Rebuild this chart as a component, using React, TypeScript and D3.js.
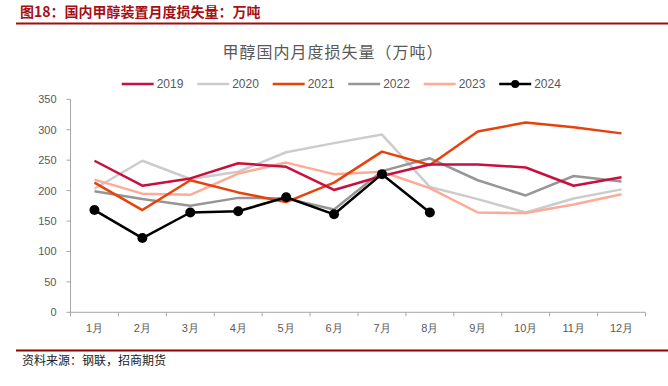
import React from "react";
import * as d3 from "d3";

const months = ["1月","2月","3月","4月","5月","6月","7月","8月","9月","10月","11月","12月"];
const yTicks = [0, 50, 100, 150, 200, 250, 300, 350];

const s2019 = [249, 208, 220, 245, 239, 201, 224, 243, 243, 238, 208, 222];
const s2020 = [203, 249, 219, 231, 263, 278, 292, 206, 186, 164, 187, 202];
const s2021 = [213, 168, 217, 197, 181, 213, 264, 242, 297, 312, 304, 294];
const s2022 = [199, 186, 175, 188, 187, 169, 232, 253, 217, 192, 224, 215];
const s2023 = [218, 195, 193, 228, 246, 227, 231, 204, 164, 163, 177, 194];
const s2024 = [168, 122, 164, 166, 189, 161, 227, 164];

const seriesNames = ["2019", "2020", "2021", "2022", "2023", "2024"];
const seriesColors = ["#C8103E", "#CCCCCC", "#E8420A", "#969696", "#FFAA96", "#000000"];

export default function App() {
  const W = 668, H = 386;
  const left = 70.5, right = 645.5, top = 99.3, bottom = 312.3;
  const x = d3.scaleBand<string>().domain(months).range([left, right]);
  const y = d3.scaleLinear().domain([0, 350]).range([bottom, top]);
  const cx = (i: number) => (x(months[i]) as number) + x.bandwidth() / 2;
  const line = d3.line<number>().x((_, i) => cx(i)).y((d) => y(d));
  const data = [s2019, s2020, s2021, s2022, s2023, s2024];
  const drawOrder = [1, 3, 4, 2, 0, 5];
  const legendX = [121.7, 197.2, 272.7, 348.2, 423.7, 499.2];
  const font = "'Liberation Sans', Arial, sans-serif";
  const cjk = "'Noto Sans CJK SC', sans-serif";
  return (
    <svg width={W} height={H} style={{ position: "absolute", left: 0, top: 0 }}>
      <rect width={W} height={H} fill="#fff" />
      <text x={20} y={17} fontFamily={cjk} fontWeight="bold" fontSize={14} fill="#A50F15">
        图18：国内甲醇装置月度损失量：万吨
      </text>
      <line x1={16} x2={668} y1={23.5} y2={23.5} stroke="#A00E0E" strokeWidth={2} />
      <text x={333} y={58} textAnchor="middle" fontFamily={cjk} fontSize={16} fill="#595959" letterSpacing={1}>
        甲醇国内月度损失量（万吨）
      </text>
      {seriesNames.map((n, i) => (
        <g key={n}>
          <line x1={legendX[i]} x2={legendX[i] + 32} y1={84} y2={84} stroke={seriesColors[i]} strokeWidth={2.5} />
          {i === 5 && <circle cx={legendX[i] + 16} cy={84} r={4} fill="#000" />}
          <text x={legendX[i] + 35} y={88} fontFamily={font} fontSize={12} fill="#595959">{n}</text>
        </g>
      ))}
      {/* y axis */}
      <line x1={left} x2={left} y1={top} y2={bottom} stroke="#A6A6A6" strokeWidth={1} />
      {yTicks.map((t) => (
        <g key={t}>
          <line x1={left - 4} x2={left} y1={y(t)} y2={y(t)} stroke="#A6A6A6" />
          <text x={left - 14} y={y(t) + 4} textAnchor="end" fontFamily={font} fontSize={11} fill="#595959">{t}</text>
        </g>
      ))}
      {/* x axis */}
      <line x1={left} x2={right} y1={bottom} y2={bottom} stroke="#A6A6A6" strokeWidth={1} />
      {months.map((m, i) => (
        <g key={m}>
          <line x1={x(m) as number} x2={x(m) as number} y1={bottom} y2={bottom + 4} stroke="#A6A6A6" />
          <text x={cx(i)} y={332} textAnchor="middle" fontFamily={font} fontSize={11} fill="#595959">{m}</text>
        </g>
      ))}
      <line x1={right} x2={right} y1={bottom} y2={bottom + 4} stroke="#A6A6A6" />
      {drawOrder.map((k) => (
        <path key={k} d={line(data[k]) as string} fill="none" stroke={seriesColors[k]} strokeWidth={2.5} strokeLinejoin="round" />
      ))}
      {s2024.map((v, i) => (
        <circle key={i} cx={cx(i)} cy={y(v)} r={5} fill="#000" />
      ))}
      <line x1={16} x2={668} y1={350.5} y2={350.5} stroke="#8B0000" strokeWidth={2} />
      <text x={22} y={365} fontFamily={cjk} fontSize={12} fill="#222">资料来源：钢联，招商期货</text>
    </svg>
  );
}
